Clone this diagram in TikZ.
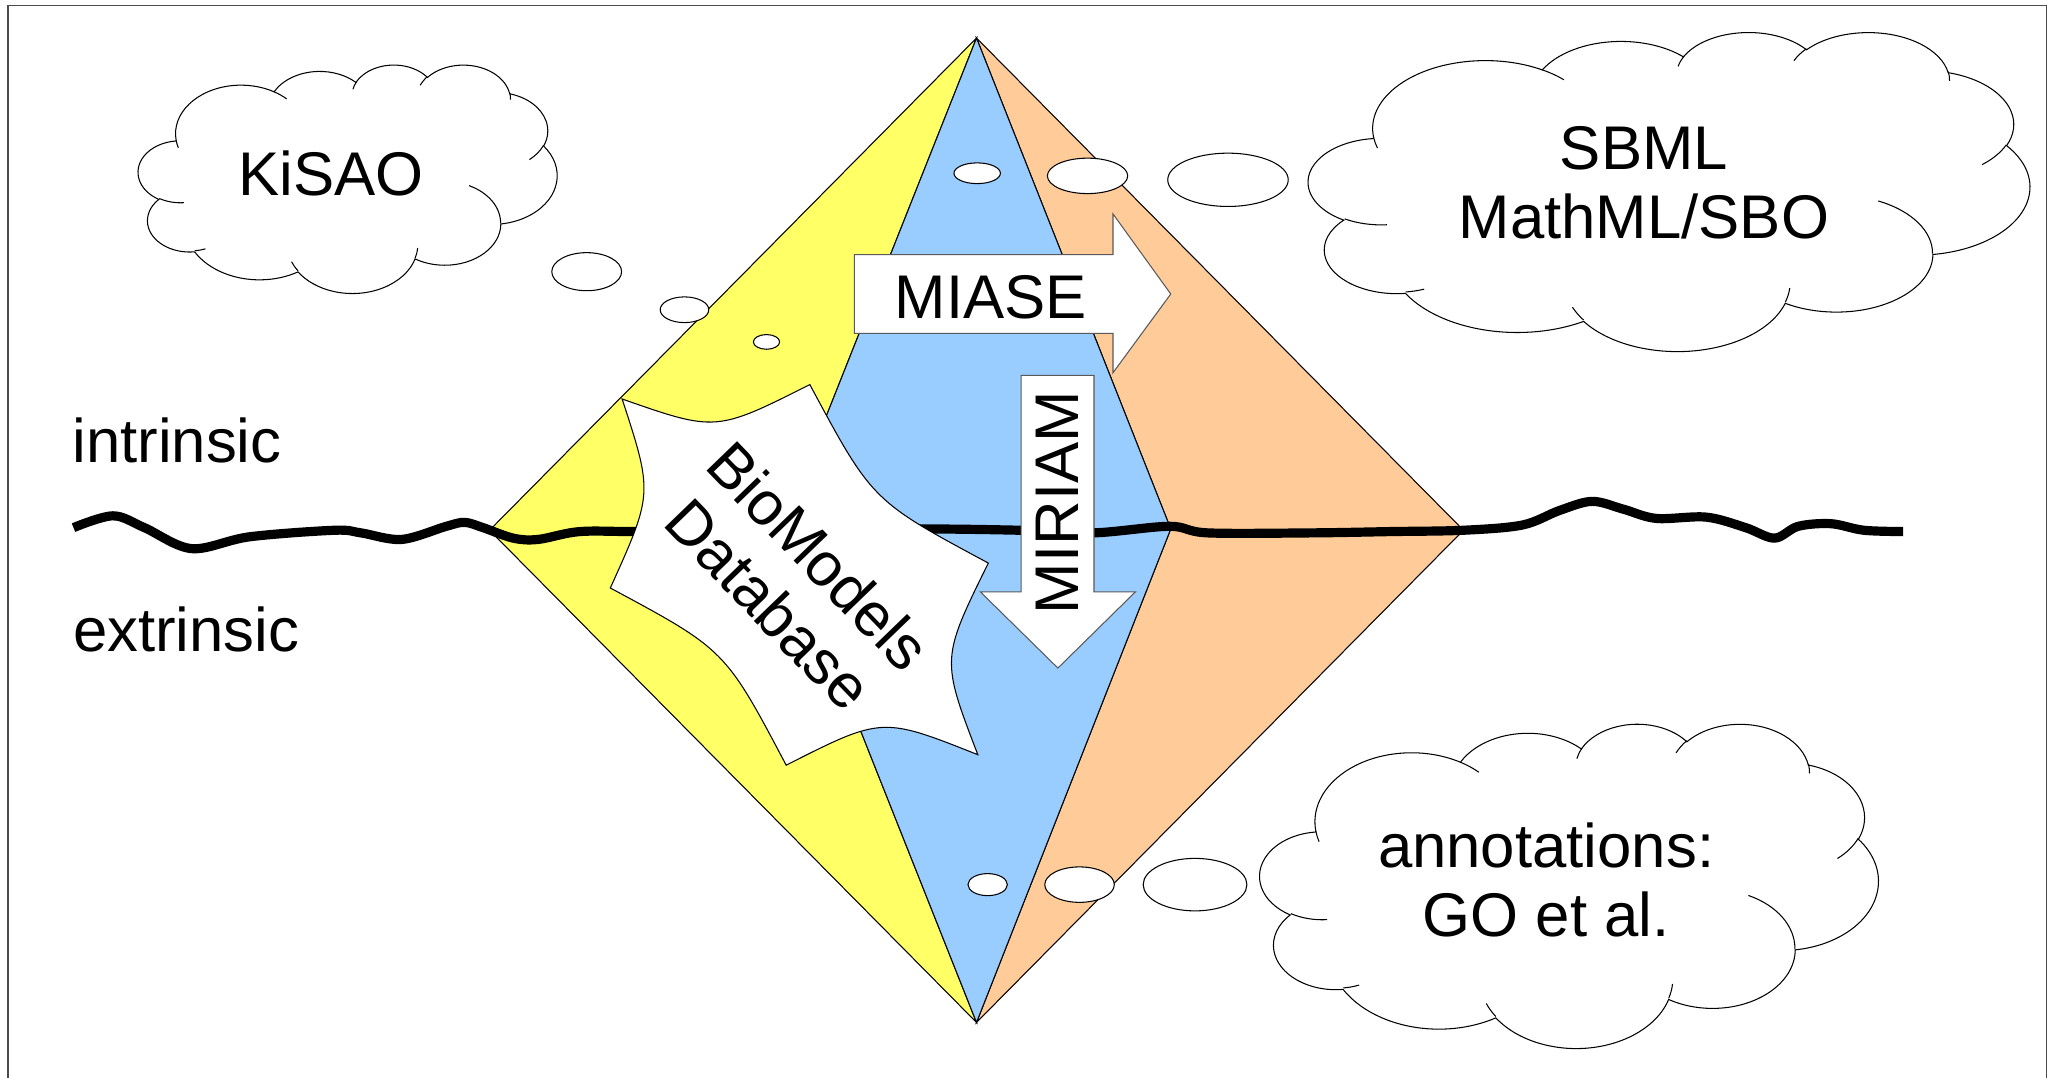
\documentclass[tikz,border=0pt]{standalone}
\usepackage{fontspec}
\setmainfont{Liberation Sans}
\definecolor{dyellow}{HTML}{FFFF66}
\definecolor{dblue}{HTML}{99CCFF}
\definecolor{dorange}{HTML}{FFCC99}
\tikzset{
  thinline/.style={draw=black, line width=0.8pt},
  bubble/.style={draw=black, line width=0.8pt, fill=white},
  lbl/.style={font=\fontsize{47}{53}\selectfont, inner sep=0pt, align=center},
  arrowbox/.style={draw=black!65, line width=0.8pt, fill=white},
  cloudline/.style={draw=black, line width=0.8pt},
  framel/.style={draw=black!70, line width=1pt},
  wave/.style={draw=black, line width=7pt},
}
\newcommand\carc[4]{arc[x radius=#1, y radius=#2,
  start angle={atan2((#1)*sin(#3),(#2)*cos(#3))},
  delta angle={mod(atan2((#1)*sin((#3)+(#4)),(#2)*cos((#3)+(#4)))-atan2((#1)*sin(#3),(#2)*cos(#3))+720,360)}]}
\newcommand\cloudoutline{(9.028,33.264)
  \carc{15.632}{21.273}{-190.487}{123.781}
  \carc{12.345}{16.822}{-144.102}{89.945}
  \carc{10.104}{13.762}{-145.808}{99.723}
  \carc{11.243}{15.266}{-130.986}{117.242}
  \carc{12.345}{16.836}{-78.709}{109.027}
  \carc{15.683}{21.343}{-46.267}{130.269}
  \carc{13.391}{18.211}{0.625}{114.033}
  \carc{15.630}{21.331}{22.452}{115.173}
  \carc{17.870}{24.405}{66.243}{75.711}
  \carc{10.093}{13.699}{-274.942}{146.736}
  \carc{10.058}{13.762}{-246.829}{152.519}
  -- cycle}
\newcommand\cloudstubs{
  (10.863,60.595) \carc{10.058}{13.762}{86.742}{26.430}
  (16.037,80.785) \carc{10.093}{13.699}{73.610}{11.447}
  (38.144,90.486) \carc{15.630}{21.331}{137.624}{14.081}
  (66.729,80.442) \carc{15.630}{21.331}{6.453}{15.998}
  (79.002,53.134) \carc{13.391}{18.211}{-70.292}{70.917}
  (96.755,35.542) \carc{12.345}{16.836}{30.318}{27.752}
  (88.713,12.560) \carc{11.243}{15.266}{-13.744}{14.859}
  (67.310,9.148) \carc{11.243}{15.266}{-149.181}{18.195}
  (51.252,10.926) \carc{10.104}{13.762}{-163.494}{17.686}
  (32.407,12.019) \carc{15.632}{21.273}{-66.707}{12.319}
  (9.553,36.549) \carc{15.632}{21.273}{157.654}{11.858}}
\newcommand\drawcloud[4]{%
  \begin{scope}[shift={(#1,#2)},x=#3pt,y=-#4pt]
    \filldraw[cloudline, fill=white] \cloudoutline;
    \draw[cloudline] \cloudstubs;
  \end{scope}}
\begin{document}
\begin{tikzpicture}[x=1pt,y=-1pt]
\useasboundingbox (0,0) rectangle (1568,821);
\fill[white] (0,0) rectangle (1568,821);
% frame
\draw[framel] (6,821) -- (6,4) -- (1559,4) -- (1559,821);
% diamond
\coordinate (T) at (744,29);
\coordinate (L) at (373,404);
\coordinate (B) at (744,779);
\coordinate (R) at (1115,404);
\coordinate (bL) at (595,404);
\coordinate (bR) at (892,403);
\filldraw[thinline, fill=dyellow] (T) -- (L) -- (B) -- (bL) -- cycle;
\filldraw[thinline, fill=dorange] (T) -- (R) -- (B) -- (bR) -- cycle;
\filldraw[thinline, fill=dblue] (T) -- (bL) -- (B) -- (bR) -- cycle;
% wavy line
\draw[wave] plot[smooth, tension=0.55] coordinates {(56,402) (86,393) (110,402) (146,418) (190,409) (255,404) (275,406) (306,411) (340,401) (354,398) (368,402) (391,410) (410,411) (442,405) (490,405) (600,404) (700,403) (777,404) (833,406) (891,401) (920,406) (1000,406) (1060,405) (1115,404) (1160,400) (1188,389) (1213,382) (1237,388) (1262,395) (1300,394) (1330,402) (1352,410) (1370,401) (1395,399) (1420,404) (1450,405)};
% star
\filldraw[thinline, fill=white] (474,304) .. controls (545.5,329) .. (617,293)
  .. controls (664.5,381.5) .. (753,429) .. controls (717,502) .. (745,575)
  .. controls (672,546) .. (599,583) .. controls (552.5,495) .. (465,448)
  .. controls (497.5,376) .. (474,304) -- cycle;
\node[lbl, rotate=-46] (biomodels) at (605,442) {BioModels\\Database};
% MIASE arrow
\filldraw[arrowbox] (651,194) -- (848,194) -- (848,163) -- (892,224) -- (848,284) -- (848,254) -- (651,254) -- cycle;
\node[lbl, anchor=base] (miase) at (755,243) {MIASE};
% MIRIAM arrow
\filldraw[arrowbox] (778,286) -- (833.5,286) -- (833.5,451) -- (865,451) -- (806,509) -- (747,451) -- (778,451) -- cycle;
\node[lbl, rotate=90, anchor=base] (miriam) at (822,383) {MIRIAM};
% bubbles
\draw[bubble] (447,207) ellipse[x radius=26.6pt, y radius=14.5pt];
\draw[bubble] (521.5,236) ellipse[x radius=18.5pt, y radius=9.8pt];
\draw[bubble] (584,260.5) ellipse[x radius=10pt, y radius=5.6pt];
\draw[bubble] (744.5,132) ellipse[x radius=17.7pt, y radius=7.9pt];
\draw[bubble] (828.6,134) ellipse[x radius=30.6pt, y radius=13.5pt];
\draw[bubble] (935.6,137) ellipse[x radius=45.9pt, y radius=20.3pt];
\draw[bubble] (752.5,674) ellipse[x radius=15pt, y radius=8.4pt];
\draw[bubble] (822.5,674) ellipse[x radius=26.5pt, y radius=13.5pt];
\draw[bubble] (910.5,674) ellipse[x radius=39.5pt, y radius=20pt];
% clouds
\drawcloud{105.4}{49}{3.19}{1.74}
\drawcloud{997}{24}{5.494}{2.43}
\drawcloud{960}{551}{4.71}{2.47}
\node[lbl, anchor=base] (kisao) at (252.5,148.6) {KiSAO};
\node[lbl] (sbml) at (1252.5,139.4) {SBML\\MathML/SBO};
\node[lbl] (annot) at (1178,670.3) {annotations:\\GO et al.};
% side labels
\node[lbl, anchor=base west] (intr) at (55,352.5) {intrinsic};
\node[lbl, anchor=base west] (extr) at (55.5,496.5) {extrinsic};
\end{tikzpicture}
\end{document}
